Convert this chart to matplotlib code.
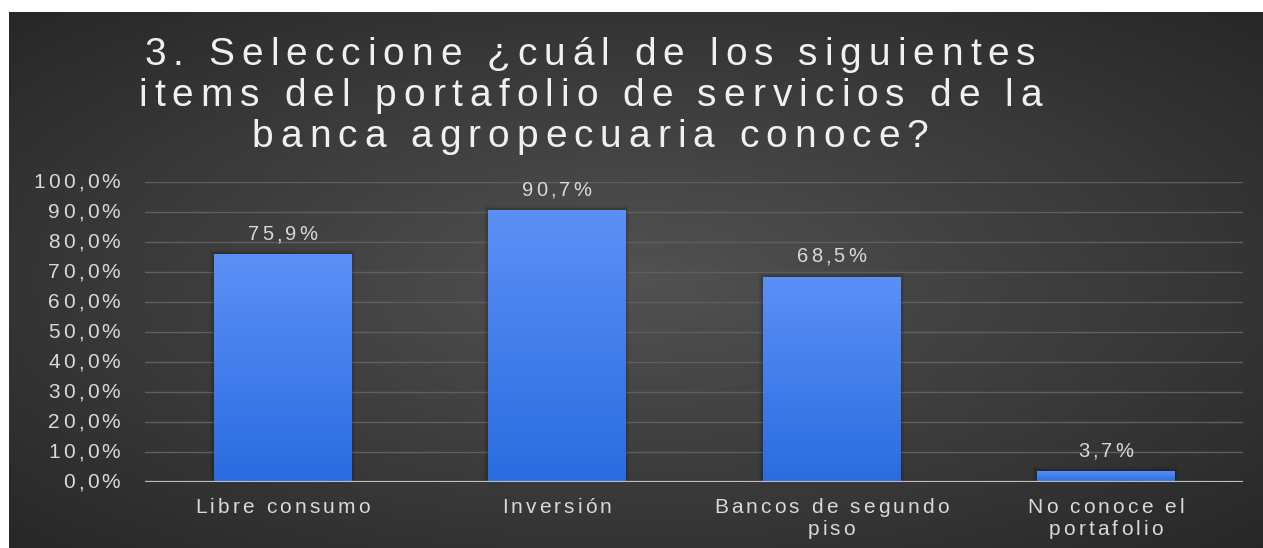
import numpy as np
import matplotlib
matplotlib.use("Agg")
import matplotlib.pyplot as plt
from matplotlib import font_manager
from matplotlib.ft2font import FT2Font
from matplotlib.patches import Rectangle

# datos de la pregunta 3
categorias = ["Libre consumo", "Inversión", "Bancos de segundo\npiso", "No conoce el\nportafolio"]
porcentajes = [75.9, 90.7, 68.5, 3.7]
titulo = ["3. Seleccione ¿cuál de los siguientes",
          "items del portafolio de servicios de la",
          "banca agropecuaria conoce?"]
marcas_y = list(range(0, 101, 10))

W, H, DPI = 1263, 548, 100
FAMILIA = "Liberation Sans"
ruta = font_manager.findfont(font_manager.FontProperties(family=FAMILIA))

fig = plt.figure(figsize=(W / DPI, H / DPI), dpi=DPI)
fig.patch.set_facecolor("white")


def avances(s, pt):
    f = FT2Font(ruta)
    f.set_size(pt, DPI)
    return [f.load_char(ord(c)).linearHoriAdvance / 65536 for c in s]


def texto(s, x, y, pt, color, ha="left", track=0.15):
    # texto con espaciado entre letras; x, y en pixeles desde arriba a la izquierda
    adv = avances(s, pt)
    esp = track * pt * DPI / 72
    total = sum(adv) + esp * (len(s) - 1)
    x0 = x - {"left": 0, "center": total / 2, "right": total}[ha]
    for c, a in zip(s, adv):
        if c != " ":
            fig.text(x0 / W, 1 - y / H, c, fontsize=pt, family=FAMILIA,
                     color=color, ha="left", va="baseline")
        x0 += a + esp


# fondo con degradado radial
fondo = fig.add_axes([9 / W, 0, 1 - 9 / W, 536 / H])
fondo.axis("off")
yy, xx = np.mgrid[0:1:300j, 0:1:700j]
r = np.clip(np.hypot(xx - 0.5, yy - 0.5) / np.sqrt(0.5), 0, 1)
c_centro = np.array([0x52, 0x52, 0x52]) / 255
c_borde = np.array([0x27, 0x27, 0x27]) / 255
fondo.imshow(c_centro + (c_borde - c_centro) * r[..., None], extent=(0, 1, 0, 1), aspect="auto")
fondo.set_xlim(0, 1)
fondo.set_ylim(0, 1)

ax = fig.add_axes([145 / W, 1 - 482 / H, (1243 - 145) / W, 300 / H])
ax.set_facecolor("none")
ax.set_xlim(-0.5, 3.5)
ax.set_ylim(0, 100)
for s in ax.spines.values():
    s.set_visible(False)
ax.set_xticks([])
ax.set_yticks([])

for m in marcas_y[1:]:
    ax.axhline(m, color="#5f5f5f", lw=1.0, zorder=1)
ax.axhline(0, color="#bdbdbd", lw=1.6, zorder=5)

px_x = 274.5  # pixeles por categoria
px_y = 3.0    # pixeles por punto porcentual
barras = ax.bar(range(len(porcentajes)), porcentajes, width=0.5, color="none", zorder=3)

grad = np.linspace(0, 1, 256)[:, None]
c_arriba = np.array([0x5c, 0x90, 0xf7]) / 255
c_abajo = np.array([0x29, 0x6c, 0xe0]) / 255
img_barra = c_arriba + (c_abajo - c_arriba) * grad[..., None]
img_barra = np.repeat(img_barra, 2, axis=1)

for b in barras:
    x0, w, h = b.get_x(), b.get_width(), b.get_height()
    # sombra suave alrededor de la barra
    for k, a in [(4, 0.08), (2, 0.12)]:
        ax.add_patch(Rectangle((x0 - k / px_x, 0), w + 2 * k / px_x, h + k / px_y,
                               color="black", alpha=a, lw=0, zorder=2))
    im = ax.imshow(img_barra, extent=(x0, x0 + w, 0, h), aspect="auto", zorder=3)
    im.set_clip_path(b)

ax.set_xlim(-0.5, 3.5)
ax.set_ylim(0, 100)

# titulo
for i, linea in enumerate(titulo):
    texto(linea, 590, 65 + i * 41, 28, "#f0f0f0", "center", track=0.18)

# etiquetas del eje y
for m in marcas_y:
    yp = H - ax.transData.transform((0, m))[1]
    texto(f"{m:.1f}".replace(".", ",") + "%", 120, yp + 6.5, 15, "#d9d9d9", "right")

# etiquetas de valor
for i, v in enumerate(porcentajes):
    xd, yd = ax.transData.transform((i, v))
    texto(f"{v:.1f}".replace(".", ",") + "%", xd, H - yd - 14, 14.5, "#d9d9d9", "center")

# etiquetas de categoria
for i, cat in enumerate(categorias):
    xd = ax.transData.transform((i, 0))[0]
    for j, linea in enumerate(cat.split("\n")):
        texto(linea, xd, 513 + j * 22, 15, "#d9d9d9", "center")

fig.savefig("out.png", dpi=DPI, facecolor=fig.get_facecolor())
